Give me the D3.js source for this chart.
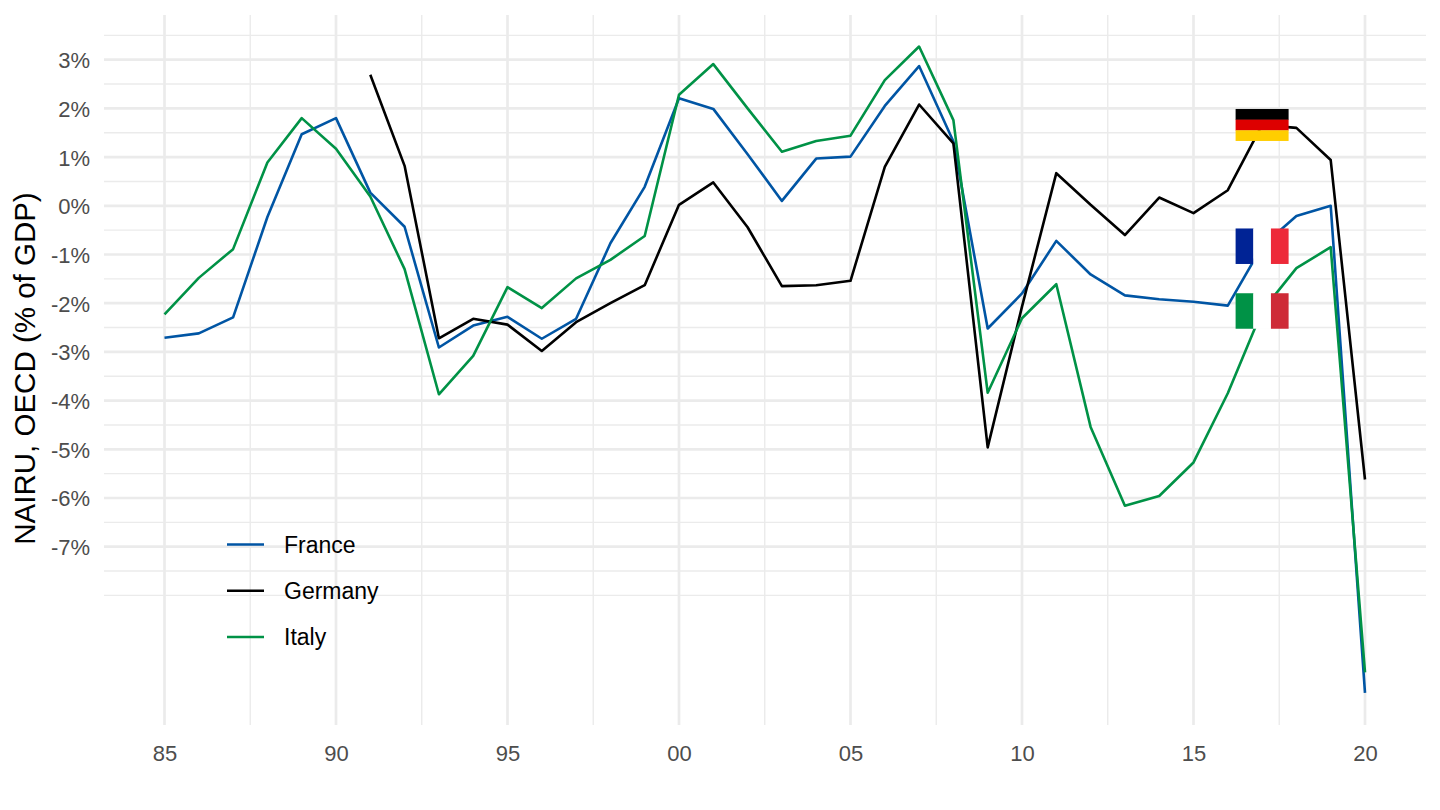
<!DOCTYPE html>
<html><head><meta charset="utf-8">
<script src="https://cdn.jsdelivr.net/npm/d3@7"></script>
<style>
html,body{margin:0;padding:0;background:#fff}
svg{display:block}
text{font-family:"Liberation Sans",Arial,sans-serif}
</style></head><body>
<svg id="chart" width="1440" height="810"></svg>
<script>
const years = d3.range(1985, 2021);
const franceValues = [-2.71,-2.62,-2.29,-0.23,1.47,1.80,0.27,-0.43,-2.91,-2.46,-2.28,-2.73,-2.32,-0.77,0.39,2.21,1.99,1.06,0.10,0.97,1.01,2.05,2.87,1.32,-2.52,-1.80,-0.72,-1.41,-1.84,-1.92,-1.97,-2.05,-0.83,-0.21,0.00,-10.00];
const germanyValues = [null,null,null,null,null,null,2.69,0.82,-2.72,-2.32,-2.44,-2.98,-2.39,-2.00,-1.63,0.02,0.48,-0.44,-1.65,-1.63,-1.54,0.80,2.08,1.28,-4.96,-2.07,0.67,0.02,-0.60,0.17,-0.15,0.32,1.66,1.60,0.94,-5.62];
const italyValues = [-2.23,-1.48,-0.89,0.89,1.80,1.17,0.19,-1.30,-3.87,-3.08,-1.67,-2.10,-1.49,-1.11,-0.62,2.28,2.91,2.00,1.11,1.33,1.44,2.58,3.27,1.76,-3.84,-2.31,-1.61,-4.54,-6.16,-5.96,-5.27,-3.85,-2.16,-1.28,-0.85,-9.58];
const countries = ["France","Germany","Italy"];
const countryColors = ["#0055A4","#000000","#009246"];
const yMajor = [3,2,1,0,-1,-2,-3,-4,-5,-6,-7];
const yMinor = [3.5,2.5,1.5,0.5,-0.5,-1.5,-2.5,-3.5,-4.5,-5.5,-6.5,-7.5,-8];
const xMajor = [1985,1990,1995,2000,2005,2010,2015,2020];
const xMinor = [1987.5,1992.5,1997.5,2002.5,2007.5,2012.5,2017.5];
const xLabels = ["85","90","95","00","05","10","15","20"];
const flagYear = 2017;
const flagStripes = {
  France: ["#002395","#FFFFFF","#ED2939"],
  Germany: ["#000000","#DD0000","#FFCE00"],
  Italy: ["#009246","#FFFFFF","#CE2B37"]
};

const svg = d3.select("#chart");
const panel = {left:104, right:1426, top:15, bottom:725};
const x = d3.scaleLinear().domain([1985,2020]).range([164.5,1365]);
const y = d3.scaleLinear().domain([0,-7]).range([205.8,546.7]);
const GRID = "#EBEBEB";

const grid = svg.append("g");
grid.selectAll(".hmin").data(yMinor).join("line")
  .attr("x1",panel.left).attr("x2",panel.right).attr("y1",d=>y(d)).attr("y2",d=>y(d))
  .attr("stroke",GRID).attr("stroke-width",1.4);
grid.selectAll(".vmin").data(xMinor).join("line")
  .attr("y1",panel.top).attr("y2",panel.bottom).attr("x1",d=>x(d)).attr("x2",d=>x(d))
  .attr("stroke",GRID).attr("stroke-width",1.4);
grid.selectAll(".hmaj").data(yMajor).join("line")
  .attr("x1",panel.left).attr("x2",panel.right).attr("y1",d=>y(d)).attr("y2",d=>y(d))
  .attr("stroke",GRID).attr("stroke-width",2.7);
grid.selectAll(".vmaj").data(xMajor).join("line")
  .attr("y1",panel.top).attr("y2",panel.bottom).attr("x1",d=>x(d)).attr("x2",d=>x(d))
  .attr("stroke",GRID).attr("stroke-width",2.7);

const line = d3.line().defined(d=>d.v!==null).x(d=>x(d.year)).y(d=>y(d.v));
const seriesValues = [franceValues,germanyValues,italyValues];
const series = countries.map((name,i)=>({name,color:countryColors[i],
  points:years.map((year,j)=>({year,v:seriesValues[i][j]}))}));
svg.append("g").selectAll("path").data(series).join("path")
  .attr("d",d=>line(d.points)).attr("fill","none").attr("stroke",d=>d.color)
  .attr("stroke-width",2.6).attr("stroke-linejoin","round").attr("stroke-linecap","butt");

// Flags centred on each series' 2017 value
const flagW = 53;
const flags = svg.append("g");
series.forEach(s=>{
  const v = s.points.find(p=>p.year===flagYear).v;
  const cx = x(flagYear), cy = y(v), stripes = flagStripes[s.name];
  if(s.name==="Germany"){
    const h=32;
    stripes.forEach((c,i)=>flags.append("rect").attr("x",cx-flagW/2).attr("width",flagW)
      .attr("y",cy-h/2+i*h/3).attr("height",h/3+(i<2?0.3:0)).attr("fill",c));
  } else {
    const h=35.5;
    stripes.forEach((c,i)=>flags.append("rect").attr("x",cx-flagW/2+i*flagW/3).attr("width",flagW/3+(i<2?0.3:0))
      .attr("y",cy-h/2).attr("height",h).attr("fill",c));
  }
});

// Axes
const yAxis = d3.axisLeft(y).tickValues(yMajor).tickSize(0).tickPadding(0).tickFormat(d=>d+"%");
const gy = svg.append("g").attr("transform","translate(90,0)").call(yAxis);
gy.select(".domain").remove();
gy.selectAll("text").attr("font-size",22).attr("fill","#4D4D4D").attr("font-family",'"Liberation Sans",Arial,sans-serif').attr("x",0).attr("dy","0.36em");

const xAxis = d3.axisBottom(x).tickValues(xMajor).tickSize(0).tickPadding(0).tickFormat((d,i)=>xLabels[i]);
const gx = svg.append("g").attr("transform","translate(0,745)").call(xAxis);
gx.select(".domain").remove();
gx.selectAll("text").attr("font-size",22).attr("fill","#4D4D4D").attr("font-family",'"Liberation Sans",Arial,sans-serif').attr("y",0).attr("dy","0.71em");

svg.append("text").attr("transform","translate(35,368.5) rotate(-90)")
  .attr("text-anchor","middle").attr("font-size",29.5).attr("fill","#000").text("NAIRU, OECD (% of GDP)");

// Legend
const legendY = d3.scalePoint().domain(countries).range([544.5,637]);
const legend = svg.append("g").selectAll("g").data(series).join("g")
  .attr("transform",d=>`translate(0,${legendY(d.name)})`);
legend.append("line").attr("x1",227).attr("x2",264).attr("stroke",d=>d.color).attr("stroke-width",2.6);
legend.append("text").attr("x",284).attr("dy","0.36em").attr("font-size",23).attr("fill","#000").text(d=>d.name);
</script>
</body></html>
